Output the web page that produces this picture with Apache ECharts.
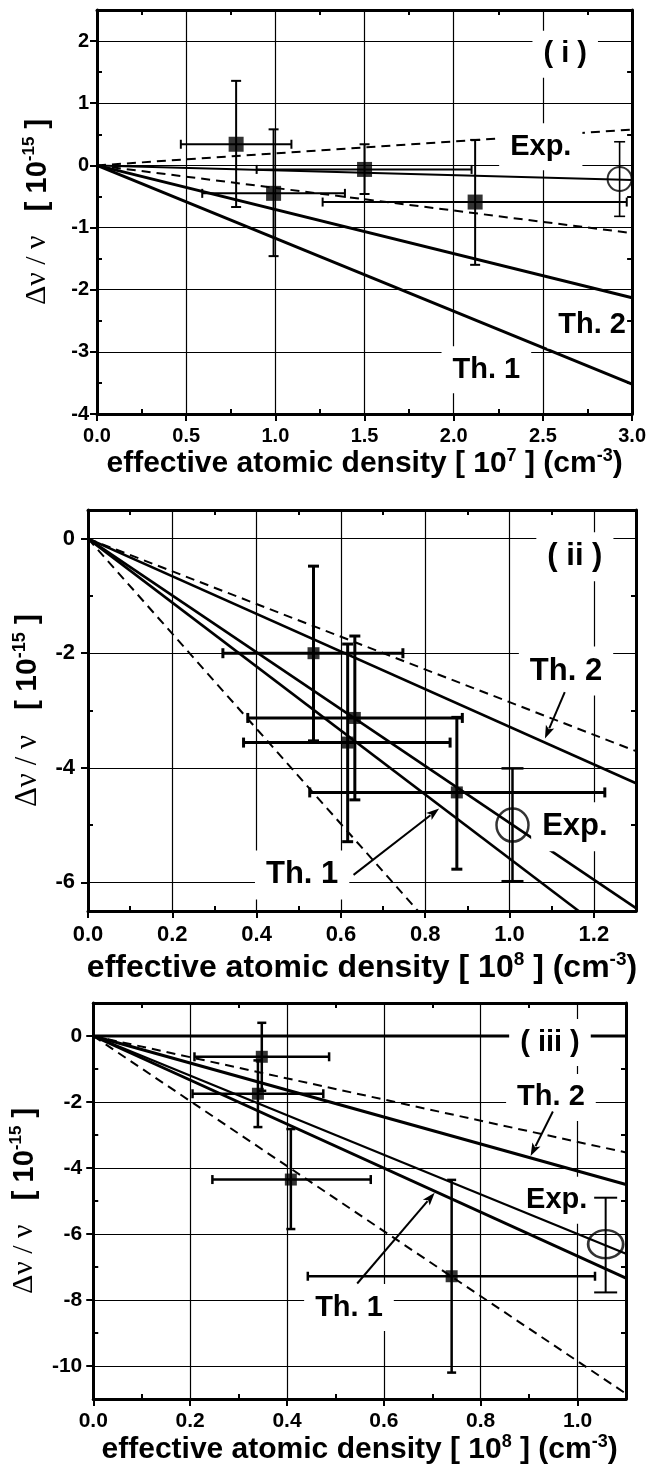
<!DOCTYPE html>
<html>
<head>
<meta charset="utf-8">
<script src="https://cdn.jsdelivr.net/npm/echarts@6/dist/echarts.min.js"></script>
<style>
html,body{margin:0;padding:0;background:#fff;}
#c{width:649px;height:1469px;}
</style>
</head>
<body>
<div id="c"></div>
<script>
// ================= DATA =================
// ---- Panel (i) ----
const p1XTicks = [0, 0.5, 1, 1.5, 2, 2.5, 3];
const p1XMinorTicks = [0.25, 0.75, 1.25, 1.75, 2.25, 2.75];
const p1YTicks = [-4, -3, -2, -1, 0, 1, 2];
const p1YMinorTicks = [-3.5, -2.5, -1.5, -0.5, 0.5, 1.5];
const p1LineX = [0, 3.0];
const p1Th1 = [0, -3.52];
const p1Th2 = [0, -2.13];
const p1Fit = [0, -0.235];
const p1DashUp = [0, 0.577];
const p1DashLow = [0, -1.09];
const p1PtX = [0.78, 0.99, 1.50, 2.12];
const p1PtY = [0.34, -0.45, -0.065, -0.59];
const p1PtXLo = [0.47, 0.59, 0.895, 1.265];
const p1PtXHi = [1.09, 1.39, 2.10, 2.97];
const p1PtYLo = [-0.67, -1.46, -0.46, -1.60];
const p1PtYHi = [1.36, 0.58, 0.34, 0.41];
const p1ExpX = [2.93];
const p1ExpY = [-0.22];
const p1ExpYLo = [-0.82];
const p1ExpYHi = [0.38];
const p1Labels = ['( i )', 'Exp.', 'Th. 2', 'Th. 1'];
const p1LabelX = [2.625, 2.488, 2.776, 2.183];
const p1LabelY = [1.79, 0.30, -2.57, -3.29];

// ---- Panel (ii) ----
const p2XTicks = [0, 0.2, 0.4, 0.6, 0.8, 1.0, 1.2];
const p2XMinorTicks = [0.1, 0.3, 0.5, 0.7, 0.9, 1.1];
const p2YTicks = [-6, -4, -2, 0];
const p2YMinorTicks = [-5, -3, -1];
const p2LineX = [0, 1.3];
const p2DashUp = [0, -3.71];
const p2Th2 = [0, -4.27];
const p2Fit = [0, -6.45];
const p2Th1X = [0, 1.164];
const p2Th1 = [0, -6.5];
const p2DashLowX = [0, 0.783];
const p2DashLow = [0, -6.5];
const p2PtX = [0.535, 0.633, 0.616, 0.875];
const p2PtY = [-2.0, -3.13, -3.56, -4.43];
const p2PtXLo = [0.32, 0.379, 0.369, 0.526];
const p2PtXHi = [0.747, 0.888, 0.859, 1.226];
const p2PtYLo = [-3.53, -4.56, -5.29, -5.77];
const p2PtYHi = [-0.48, -1.70, -1.84, -3.12];
const p2ExpX = [1.007];
const p2ExpY = [-5.0];
const p2ExpYLo = [-5.98];
const p2ExpYHi = [-4.01];
const p2Labels = ['( ii )', 'Th. 2', 'Exp.', 'Th. 1'];
const p2LabelX = [1.155, 1.134, 1.155, 0.508];
const p2LabelY = [-0.316, -2.31, -5.03, -5.87];
const p2ArrowX1 = [1.131, 0.630];
const p2ArrowY1 = [-2.68, -5.87];
const p2ArrowX2 = [1.084, 0.833];
const p2ArrowY2 = [-3.49, -4.71];

// ---- Panel (iii) ----
const p3XTicks = [0, 0.2, 0.4, 0.6, 0.8, 1.0];
const p3XMinorTicks = [0.1, 0.3, 0.5, 0.7, 0.9, 1.1];
const p3YTicks = [-10, -8, -6, -4, -2, 0];
const p3YMinorTicks = [-11, -9, -7, -5, -3, -1, 1];
const p3LineX = [0, 1.1];
const p3Zero = [0, 0];
const p3DashUp = [0, -3.53];
const p3Th2 = [0, -4.5];
const p3Fit = [0, -6.6];
const p3Th1 = [0, -7.34];
const p3DashLow = [0, -10.84];
const p3PtX = [0.348, 0.34, 0.408, 0.74];
const p3PtY = [-0.63, -1.75, -4.35, -7.28];
const p3PtXLo = [0.209, 0.205, 0.246, 0.443];
const p3PtXHi = [0.487, 0.475, 0.573, 1.036];
const p3PtYLo = [-1.66, -2.76, -5.85, -10.2];
const p3PtYHi = [0.40, -0.74, -2.82, -4.36];
const p3ExpX = [1.058];
const p3ExpY = [-6.31];
const p3ExpYLo = [-7.77];
const p3ExpYHi = [-4.9];
const p3Labels = ['( iii )', 'Th. 2', 'Exp.', 'Th. 1'];
const p3LabelX = [0.943, 0.945, 0.957, 0.528];
const p3LabelY = [-0.197, -1.86, -4.98, -8.23];
const p3ArrowX1 = [0.949, 0.545];
const p3ArrowY1 = [-2.29, -7.50];
const p3ArrowX2 = [0.903, 0.705];
const p3ArrowY2 = [-3.64, -4.75];

const xTitle7 = 'effective atomic density [ 10{s|7} ] (cm{s|-3})';
const xTitle8 = 'effective atomic density [ 10{s|8} ] (cm{s|-3})';
const yTitle = '{g|\u0394\u03BD / \u03BD}   [ 10{s|-15} ]';

// ================= BUILD =================
const FONT = '"Liberation Sans", Arial, Helvetica, sans-serif';
const SERIF = '"Liberation Serif", "DejaVu Serif", serif';

function nameStyle(fs) {
  return {
    fontSize: fs, fontWeight: 'bold', fontFamily: FONT, color: '#000', lineHeight: fs + 4,
    rich: {
      s: {fontSize: Math.round(fs * 0.6), fontWeight: 'bold', fontFamily: FONT, color: '#000',
          verticalAlign: 'top', lineHeight: Math.round(fs * 0.6)},
      g: {fontSize: fs + 1, fontWeight: 'normal', fontFamily: SERIF, color: '#000', lineHeight: fs + 4}
    }
  };
}

function xAxes(gi, min, max, majors, minors, name, nameGap, fs, tfs, margin) {
  const c = {type: 'value', gridIndex: gi, min: min, max: max};
  return [
    Object.assign({}, c, {
      position: 'bottom',
      axisLine: {show: true, onZero: false, lineStyle: {color: '#000', width: 3}},
      axisTick: {show: true, inside: false, length: 7, customValues: majors, lineStyle: {color: '#000', width: 2}},
      axisLabel: {show: true, customValues: majors, formatter: v => Number(v).toFixed(1), margin: margin,
                  color: '#000', fontSize: tfs, fontWeight: 'bold', fontFamily: FONT},
      splitLine: {show: true, lineStyle: {color: '#000', width: 1.2}},
      name: name, nameLocation: 'middle', nameGap: nameGap, nameTextStyle: nameStyle(fs)
    }),
    Object.assign({}, c, {
      position: 'bottom',
      axisLine: {show: false, onZero: false},
      axisTick: {show: true, inside: true, length: 5, customValues: minors, lineStyle: {color: '#000', width: 2}},
      axisLabel: {show: false}, splitLine: {show: false}
    }),
    Object.assign({}, c, {
      position: 'top', z: 10,
      axisLine: {show: true, onZero: false, lineStyle: {color: '#000', width: 3}},
      axisTick: {show: true, inside: true, length: 5, customValues: minors, lineStyle: {color: '#000', width: 2}},
      axisLabel: {show: false}, splitLine: {show: false}
    })
  ];
}

function yAxes(gi, min, max, majors, minors, name, nameGap, fs, tfs, margin, splitNumber) {
  const c = {type: 'value', gridIndex: gi, min: min, max: max, splitNumber: splitNumber};
  return [
    Object.assign({}, c, {
      position: 'left',
      axisLine: {show: true, onZero: false, lineStyle: {color: '#000', width: 3}},
      axisTick: {show: true, inside: false, length: 7, customValues: majors, lineStyle: {color: '#000', width: 2}},
      axisLabel: {show: true, customValues: majors, formatter: v => String(Math.round(v)), margin: margin,
                  color: '#000', fontSize: tfs, fontWeight: 'bold', fontFamily: FONT},
      splitLine: {show: true, lineStyle: {color: '#000', width: 1.2}},
      name: name, nameLocation: 'middle', nameGap: nameGap, nameRotate: 90, nameTextStyle: nameStyle(fs)
    }),
    Object.assign({}, c, {
      position: 'left',
      axisLine: {show: false, onZero: false},
      axisTick: {show: true, inside: true, length: 5, customValues: minors, lineStyle: {color: '#000', width: 2}},
      axisLabel: {show: false}, splitLine: {show: false}
    }),
    Object.assign({}, c, {
      position: 'right', z: 10,
      axisLine: {show: true, onZero: false, lineStyle: {color: '#000', width: 3}},
      axisTick: {show: true, inside: true, length: 5, customValues: minors, lineStyle: {color: '#000', width: 2}},
      axisLabel: {show: false}, splitLine: {show: false}
    })
  ];
}

function lineS(gi, xs, ys, width, dashed) {
  return {
    type: 'line', xAxisIndex: gi * 3, yAxisIndex: gi * 3, z: 2,
    data: xs.map((x, i) => [x, ys[i]]),
    showSymbol: false, symbol: 'none', clip: true, silent: true,
    lineStyle: {color: '#000', width: width, type: dashed ? [9, 6] : 'solid', cap: 'butt'}
  };
}

function errS(gi, xs, ys, xlo, xhi, ylo, yhi, width, capV, capH) {
  const data = xs.map((x, i) => [x, ys[i], xlo ? xlo[i] : x, xhi ? xhi[i] : x, ylo[i], yhi[i]]);
  return {
    type: 'custom', xAxisIndex: gi * 3, yAxisIndex: gi * 3, z: 3, silent: true,
    data: data,
    encode: {x: [0, 2, 3], y: [1, 4, 5]},
    renderItem: function (params, api) {
      const x = api.value(0), y = api.value(1);
      const c = api.coord([x, y]);
      const xl = api.coord([api.value(2), y]);
      const xh = api.coord([api.value(3), y]);
      const yl = api.coord([x, api.value(4)]);
      const yh = api.coord([x, api.value(5)]);
      const st = {stroke: '#000', lineWidth: width};
      const ch = [];
      if (Math.abs(xh[0] - xl[0]) > 1) {
        ch.push({type: 'line', shape: {x1: xl[0], y1: c[1], x2: xh[0], y2: c[1]}, style: st});
        ch.push({type: 'line', shape: {x1: xl[0], y1: c[1] - capH / 2, x2: xl[0], y2: c[1] + capH / 2}, style: st});
        ch.push({type: 'line', shape: {x1: xh[0], y1: c[1] - capH / 2, x2: xh[0], y2: c[1] + capH / 2}, style: st});
      }
      ch.push({type: 'line', shape: {x1: c[0], y1: yl[1], x2: c[0], y2: yh[1]}, style: st});
      ch.push({type: 'line', shape: {x1: c[0] - capV / 2, y1: yl[1], x2: c[0] + capV / 2, y2: yl[1]}, style: st});
      ch.push({type: 'line', shape: {x1: c[0] - capV / 2, y1: yh[1], x2: c[0] + capV / 2, y2: yh[1]}, style: st});
      return {type: 'group', children: ch};
    }
  };
}

function squaresS(gi, xs, ys, size) {
  return {
    type: 'scatter', xAxisIndex: gi * 3, yAxisIndex: gi * 3, z: 4, silent: true,
    symbol: 'rect', symbolSize: size,
    itemStyle: {color: '#000'},
    data: xs.map((x, i) => [x, ys[i]])
  };
}

function circleS(gi, xs, ys, size, bw) {
  return {
    type: 'scatter', xAxisIndex: gi * 3, yAxisIndex: gi * 3, z: 4, silent: true,
    symbol: 'circle', symbolSize: size,
    itemStyle: {color: 'rgba(0,0,0,0)', borderColor: '#000', borderWidth: bw},
    data: xs.map((x, i) => [x, ys[i]])
  };
}

// labels; "under" lists label indices drawn beneath the data lines (they only mask the grid)
function labelS(gi, texts, xs, ys, fs, under, z) {
  const idx = texts.map((t, i) => i).filter(i => under ? under.indexOf(i) >= 0 : true);
  return {
    type: 'scatter', xAxisIndex: gi * 3, yAxisIndex: gi * 3, z: z, silent: true,
    symbolSize: 1, itemStyle: {color: '#fff', opacity: 1},
    data: idx.map(i => ({value: [xs[i], ys[i]], label: {formatter: texts[i]}})),
    label: {show: true, position: 'inside', color: '#000', opacity: 1, textBorderWidth: 0,
            fontSize: fs, fontWeight: 'bold', fontFamily: FONT,
            backgroundColor: '#fff', padding: [9, 11]}
  };
}

function arrowS(gi, x1, y1, x2, y2) {
  return {
    type: 'custom', xAxisIndex: gi * 3, yAxisIndex: gi * 3, z: 7, silent: true,
    data: x1.map((x, i) => [x, y1[i], x2[i], y2[i]]),
    encode: {x: [0, 2], y: [1, 3]},
    renderItem: function (params, api) {
      const a = api.coord([api.value(0), api.value(1)]);
      const b = api.coord([api.value(2), api.value(3)]);
      const dx = b[0] - a[0], dy = b[1] - a[1];
      const len = Math.sqrt(dx * dx + dy * dy);
      const ux = dx / len, uy = dy / len;
      const L = 13, W = 4.5;
      const bx = b[0] - ux * L, by = b[1] - uy * L;
      return {type: 'group', children: [
        {type: 'line', shape: {x1: a[0], y1: a[1], x2: bx + ux * 2, y2: by + uy * 2},
         style: {stroke: '#000', lineWidth: 2}},
        {type: 'polygon', shape: {points: [[b[0], b[1]], [bx - uy * W, by + ux * W], [bx + ux * 3, by + uy * 3], [bx + uy * W, by - ux * W]]},
         style: {fill: '#000'}}
      ]};
    }
  };
}

const series = [
  // ---- panel (i) ----
  lineS(0, p1LineX, p1DashUp, 2, true),
  lineS(0, p1LineX, p1DashLow, 2, true),
  lineS(0, p1LineX, p1Fit, 2, false),
  lineS(0, p1LineX, p1Th2, 3, false),
  lineS(0, p1LineX, p1Th1, 3, false),
  errS(0, p1PtX, p1PtY, p1PtXLo, p1PtXHi, p1PtYLo, p1PtYHi, 2, 10, 9),
  errS(0, p1ExpX, p1ExpY, null, null, p1ExpYLo, p1ExpYHi, 1.6, 11, 9),
  squaresS(0, p1PtX, p1PtY, 15),
  circleS(0, p1ExpX, p1ExpY, [24, 24], 2),
  labelS(0, p1Labels, p1LabelX, p1LabelY, 29, null, 6),
  // ---- panel (ii) ----
  lineS(1, p2LineX, p2DashUp, 2, true),
  lineS(1, p2DashLowX, p2DashLow, 2, true),
  lineS(1, p2LineX, p2Th2, 2.6, false),
  lineS(1, p2LineX, p2Fit, 2.6, false),
  lineS(1, p2Th1X, p2Th1, 2.6, false),
  errS(1, p2PtX, p2PtY, p2PtXLo, p2PtXHi, p2PtYLo, p2PtYHi, 3, 11, 10),
  errS(1, p2ExpX, p2ExpY, null, null, p2ExpYLo, p2ExpYHi, 2.5, 22, 10),
  squaresS(1, p2PtX, p2PtY, 12),
  circleS(1, p2ExpX, p2ExpY, [32, 33], 2.5),
  labelS(1, p2Labels, p2LabelX, p2LabelY, 31, null, 6),
  arrowS(1, p2ArrowX1, p2ArrowY1, p2ArrowX2, p2ArrowY2),
  // ---- panel (iii) ----
  lineS(2, p3LineX, p3Zero, 3, false),
  lineS(2, p3LineX, p3DashUp, 2, true),
  lineS(2, p3LineX, p3DashLow, 2, true),
  lineS(2, p3LineX, p3Th2, 3, false),
  lineS(2, p3LineX, p3Fit, 2.3, false),
  lineS(2, p3LineX, p3Th1, 3, false),
  errS(2, p3PtX, p3PtY, p3PtXLo, p3PtXHi, p3PtYLo, p3PtYHi, 2.5, 9, 9),
  errS(2, p3ExpX, p3ExpY, null, null, p3ExpYLo, p3ExpYHi, 2, 23, 9),
  squaresS(2, p3PtX, p3PtY, 12),
  circleS(2, p3ExpX, p3ExpY, [35, 28], 2.5),
  labelS(2, p3Labels, p3LabelX, p3LabelY, 29, [0, 1, 3], 6),
  labelS(2, p3Labels, p3LabelX, p3LabelY, 29, [2], 1),
  arrowS(2, p3ArrowX1, p3ArrowY1, p3ArrowX2, p3ArrowY2)
];

const option = {
  animation: false,
  backgroundColor: '#fff',
  grid: [
    {left: 97, top: 10, width: 536, height: 404},
    {left: 88, top: 510, width: 548, height: 401},
    {left: 91, top: 1003, width: 535, height: 396}
  ],
  xAxis: [].concat(
    xAxes(0, 0, 3.0, p1XTicks, p1XMinorTicks, xTitle7, 30, 30, 20, 12),
    xAxes(1, 0, 1.3, p2XTicks, p2XMinorTicks, xTitle8, 39, 32, 22, 13),
    xAxes(2, 0, 1.1, p3XTicks, p3XMinorTicks, xTitle8, 26, 30, 21, 12)
  ),
  yAxis: [].concat(
    yAxes(0, -4, 2.5, p1YTicks, p1YMinorTicks, yTitle, 43, 29, 20, 8, 5),
    yAxes(1, -6.5, 0.5, p2YTicks, p2YMinorTicks, yTitle, 40, 30, 22, 13, 3),
    yAxes(2, -11, 1, p3YTicks, p3YMinorTicks, yTitle, 37, 29, 21, 11, 5)
  ),
  series: series
};

const chart = echarts.init(document.getElementById('c'), null, {renderer: 'canvas'});
chart.setOption(option);
</script>
</body>
</html>
